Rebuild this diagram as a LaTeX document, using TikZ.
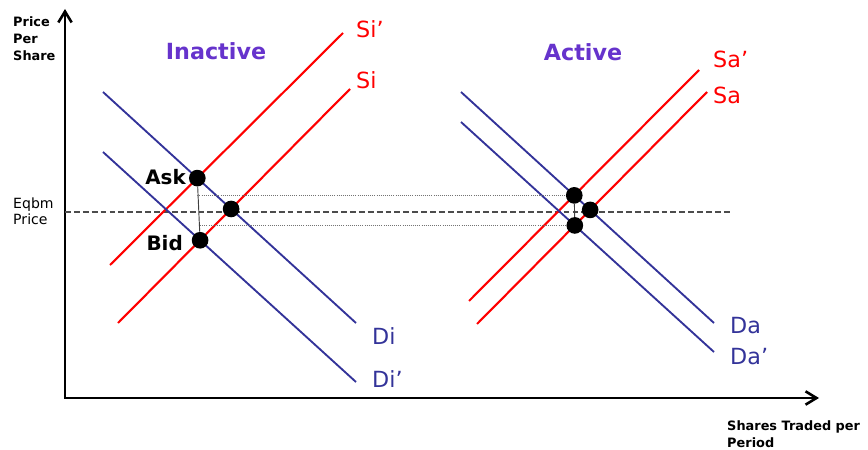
\documentclass[tikz,border=0pt]{standalone}
\usepackage{fontspec}
\setmainfont{DejaVu Sans}
\usetikzlibrary{arrows.meta, positioning}
\definecolor{supred}{RGB}{255,0,0}
\definecolor{demblue}{RGB}{51,51,153}
\definecolor{mktpurple}{RGB}{102,51,204}
\tikzset{
  supply/.style={draw=supred, line width=1.8pt},
  demand/.style={draw=demblue, line width=1.6pt},
  curvelab/.style={font=\fontsize{19}{22}\selectfont, anchor=west, inner sep=0pt},
  dot/.style={circle, fill=black, minimum size=0.5cm, inner sep=0pt},
  axislab/.style={font=\bfseries\fontsize{11}{14.5}\selectfont, align=left, inner sep=0pt},
  market/.style={font=\bfseries\fontsize{19}{22}\selectfont, text=mktpurple},
  quote/.style={font=\bfseries\fontsize{17}{19}\selectfont, anchor=east, inner sep=0pt},
  spread/.style={draw=black!75, line width=0.8pt},
  level/.style={draw=black!55, line width=0.8pt, dash pattern=on 0.8pt off 1pt}
}

\begin{document}
\begin{tikzpicture}[x=0.03cm, y=-0.03cm, >={Straight Barb[length=3.3mm,width=4mm]}]
  \useasboundingbox (0,0) rectangle (868,450);
  % axes
  \coordinate (origin) at (65,398);
  \coordinate (ytop) at (65,9);
  \coordinate (xend) at (819,398);
  \draw[line width=2.2pt, <->] (ytop) -- (origin) -- (xend);
  \node[axislab, anchor=north west] (pps) at (13,16) {Price\\Per\\Share};
  \node[axislab, font=\fontsize{12}{13.7}\selectfont, anchor=west] (eqlab) at (13,211) {Eqbm\\Price};
  \node[axislab, anchor=north west] (stp) at (727,420) {Shares Traded per\\Period};
  \coordinate (eqend) at (730,212);
  \draw[black!70, line width=1pt, dash pattern=on 5pt off 2.6pt] (origin |- eqend) -- (eqend);

  % (i) inactive market
  \node[market] (inact) at (216,51) {Inactive};
  \coordinate (si1) at (110,265); \coordinate (si2) at (343,33);
  \coordinate (sj1) at (118,323); \coordinate (sj2) at (350,89);
  \coordinate (di1) at (103,92);  \coordinate (di2) at (356,323);
  \coordinate (dj1) at (103,152); \coordinate (dj2) at (356,382);
  \draw[supply] (si1) -- (si2); \node[curvelab, text=supred] (silab) at (356,29) {Si’};
  \draw[supply] (sj1) -- (sj2); \node[curvelab, text=supred] (sjlab) at (356,80) {Si};
  \draw[demand] (di1) -- (di2); \node[curvelab, text=demblue] (dilab) at (372,336) {Di};
  \draw[demand] (dj1) -- (dj2); \node[curvelab, text=demblue] (djlab) at (372,379) {Di’};
  \node[dot] (ask) at (intersection of si1--si2 and di1--di2) {};
  \node[dot] (bid) at (intersection of sj1--sj2 and dj1--dj2) {};
  \node[dot] (eqi) at (intersection of sj1--sj2 and di1--di2) {};
  \draw[spread] (ask) -- (bid);
  \node[quote] (asklab) at (186,177) {Ask};
  \node[quote] (bidlab) at (183,243) {Bid};

  % (ii) active market
  \node[market] (act) at (583,52) {Active};
  \coordinate (sa1) at (469,301); \coordinate (sa2) at (699,70);
  \coordinate (sb1) at (477,324); \coordinate (sb2) at (707,92);
  \coordinate (da1) at (461,92);  \coordinate (da2) at (714,323);
  \coordinate (db1) at (461,122); \coordinate (db2) at (714,352);
  \draw[supply] (sa1) -- (sa2); \node[curvelab, text=supred] (salab) at (713,59) {Sa’};
  \draw[supply] (sb1) -- (sb2); \node[curvelab, text=supred] (sblab) at (713,95) {Sa};
  \draw[demand] (da1) -- (da2); \node[curvelab, text=demblue] (dalab) at (730,326) {Da};
  \draw[demand] (db1) -- (db2); \node[curvelab, text=demblue] (dblab) at (730,357) {Da’};
  \node[dot] (topa) at (intersection of sa1--sa2 and da1--da2) {};
  \node[dot] (bota) at (intersection of sb1--sb2 and db1--db2) {};
  \node[dot] (eqa) at (intersection of sb1--sb2 and da1--da2) {};
  \draw[spread] (topa) -- (bota);
  %
  \draw[level] (ask |- topa) -- (topa);
  \draw[level] (bid |- bota) -- (bota);
\end{tikzpicture}
\end{document}
